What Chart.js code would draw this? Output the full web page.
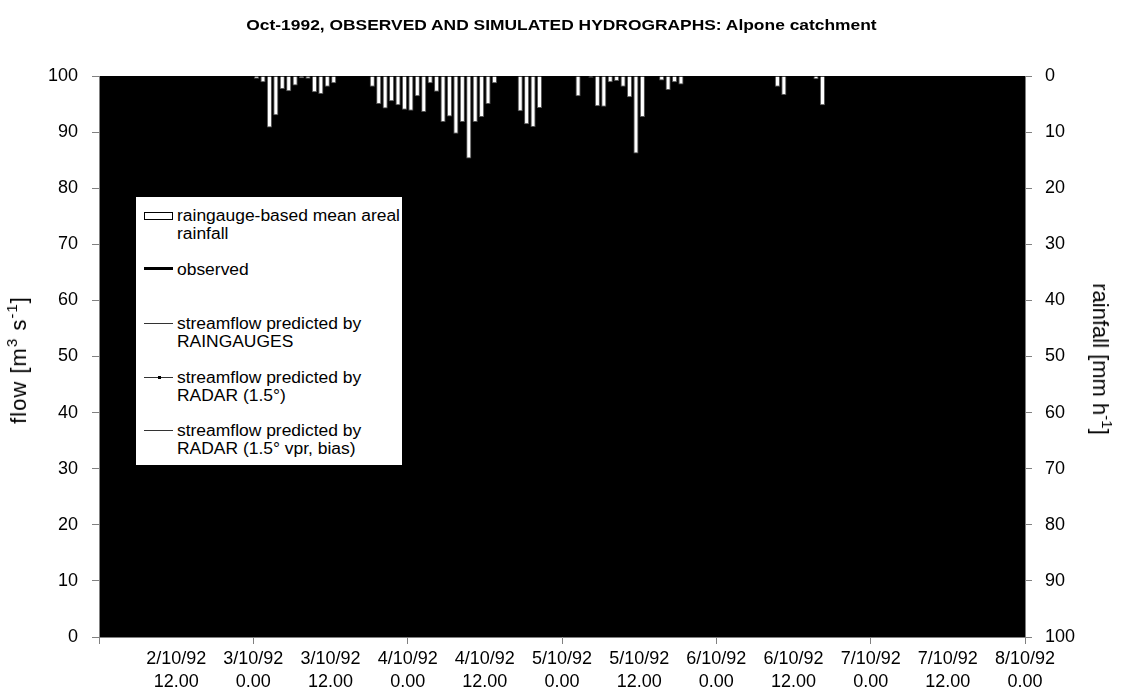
<!DOCTYPE html>
<html>
<head>
<meta charset="utf-8">
<title>Alpone catchment hydrographs</title>
<script src="https://cdn.jsdelivr.net/npm/chart.js@4.4.1/dist/chart.umd.min.js"></script>
<style>
  html, body { margin: 0; padding: 0; background: #fff; }
  #wrap {
    position: relative;
    width: 1123px;
    height: 698px;
    font-family: "Liberation Sans", Arial, sans-serif;
    color: #000;
  }
  #chart { position: absolute; left: 0; top: 0; }
  #title {
    position: absolute;
    left: 0;
    width: 1123px;
    top: 16px;
    text-align: center;
    font-weight: bold;
    font-size: 15px;
    transform: scaleX(1.16);
  }
  .axis-title {
    position: absolute;
    font-size: 22px;
    white-space: nowrap;
    transform-origin: center center;
  }
  .axis-title sup { font-size: 15px; vertical-align: 9px; line-height: 0; }
  #flow-title { left: 19px; top: 360px; transform: translate(-50%, -50%) rotate(-90deg); letter-spacing: 1px; }
  #rain-title { left: 1100px; top: 359px; transform: translate(-50%, -50%) rotate(90deg); }
  #legend {
    position: absolute;
    left: 135px;
    top: 196px;
    width: 266px;
    height: 268px;
    background: #fff;
    border: 1px solid #000;
    font-size: 16px;
    line-height: 18px;
  }
  #legend .txt {
    position: absolute;
    left: 41px;
    white-space: nowrap;
    transform: scaleX(1.09);
    transform-origin: left center;
  }
  #legend .swatch { position: absolute; left: 8px; width: 29px; }
</style>
</head>
<body>
<div id="wrap">
  <canvas id="chart" width="1123" height="698"></canvas>
  <div id="title">Oct-1992, OBSERVED AND SIMULATED HYDROGRAPHS: Alpone catchment</div>
  <div id="flow-title" class="axis-title">flow [m<sup>3</sup> s<sup>-1</sup>]</div>
  <div id="rain-title" class="axis-title">rainfall [mm h<sup>-1</sup>]</div>
  <div id="legend">
    <div class="swatch" style="top:15px;height:6px;border:1px solid #000;width:27px;background:#fff"></div>
    <div class="txt" style="top:10px">raingauge-based mean areal<br>rainfall</div>
    <div class="swatch" style="top:70px;height:3px;background:#000"></div>
    <div class="txt" style="top:64px">observed</div>
    <div class="swatch" style="top:126px;height:1px;background:#333"></div>
    <div class="txt" style="top:118px">streamflow predicted by<br>RAINGAUGES</div>
    <div class="swatch" style="top:180px;height:1px;background:#333"></div>
    <div class="swatch" style="top:179px;left:22px;width:3px;height:3px;background:#000"></div>
    <div class="txt" style="top:172px">streamflow predicted by<br>RADAR (1.5°)</div>
    <div class="swatch" style="top:233px;height:1px;background:#333"></div>
    <div class="txt" style="top:225px">streamflow predicted by<br>RADAR (1.5° vpr, bias)</div>
  </div>
</div>
<script>
// hourly raingauge-based mean areal rainfall [mm/h], 2/10/92 0.00 -> 8/10/92 0.00
const rainfall = [
  0, 0, 0, 0, 0, 0, 0, 0, 0, 0, 0, 0,
  0, 0, 0, 0, 0, 0, 0, 0, 0, 0, 0, 0,
  0.5, 1.1, 9.2, 7.0, 2.3, 2.7, 1.7, 0.4, 0.5, 2.9, 3.2, 1.9,
  1.3, 0, 0, 0, 0, 0, 1.9, 5.0, 5.8, 4.5, 5.2, 6.0,
  6.2, 3.6, 6.4, 1.3, 2.8, 8.2, 7.2, 10.3, 8.2, 14.7, 8.2, 7.3,
  5.0, 1.3, 0, 0, 0, 6.3, 8.6, 9.1, 5.7, 0, 0, 0,
  0, 0, 3.6, 0, 0.3, 5.4, 5.5, 1.1, 0.9, 1.9, 3.8, 13.8,
  7.3, 0, 0, 0.8, 2.5, 1.1, 1.5, 0, 0, 0, 0, 0,
  0, 0, 0, 0, 0, 0, 0, 0, 0, 1.9, 3.4, 0,
  0, 0, 0, 0.6, 5.2, 0, 0, 0, 0, 0, 0, 0,
  0, 0, 0, 0, 0, 0, 0, 0, 0, 0, 0, 0,
  0, 0, 0, 0, 0, 0, 0, 0, 0, 0, 0, 0
];

// x tick labels, one every 12 hours
const tickLabels = [
  "2/10/92 12.00", "3/10/92 0.00", "3/10/92 12.00", "4/10/92 0.00",
  "4/10/92 12.00", "5/10/92 0.00", "5/10/92 12.00", "6/10/92 0.00",
  "6/10/92 12.00", "7/10/92 0.00", "7/10/92 12.00", "8/10/92 0.00"
];

const hourLabels = rainfall.map((_, i) => `${2 + Math.floor(i / 24)}/10/92 ${i % 24}.00`);

const blackPlot = {
  id: "blackPlot",
  beforeDraw(chart) {
    const { ctx, chartArea } = chart;
    ctx.save();
    ctx.fillStyle = "#000";
    ctx.fillRect(chartArea.left, chartArea.top, chartArea.right - chartArea.left, chartArea.bottom - chartArea.top);
    ctx.restore();
  }
};

document.addEventListener("DOMContentLoaded", () => {
  const family = '"Liberation Sans", Arial, sans-serif';
  const axisGrey = "#808080";

  new Chart(document.getElementById("chart").getContext("2d"), {
    type: "bar",
    data: {
      labels: hourLabels,
      datasets: [
        {
          label: "raingauge-based mean areal rainfall",
          data: rainfall,
          xAxisID: "x",
          yAxisID: "rain",
          backgroundColor: "#fff",
          borderColor: "#555",
          borderWidth: 1,
          barPercentage: 0.8,
          categoryPercentage: 1.0
        }
      ]
    },
    options: {
      responsive: false,
      animation: false,
      layout: { padding: { top: 76, left: 0, right: 0, bottom: 0 } },
      plugins: {
        legend: { display: false },
        tooltip: { enabled: false }
      },
      scales: {
        x: {
          type: "category",
          display: false,
          offset: true
        },
        time: {
          type: "linear",
          position: "bottom",
          offset: false,
          min: 0,
          max: 144,
          afterBuildTicks: (axis) => {
            axis.ticks = [0, 12, 24, 36, 48, 60, 72, 84, 96, 108, 120, 132, 144].map((v) => ({ value: v }));
          },
          afterFit: (s) => { s.height = 61; },
          ticks: {
            autoSkip: false,
            maxRotation: 0,
            padding: 3,
            color: "#000",
            font: { family, size: 18, lineHeight: 1.3 },
            callback: (v) => (v === 0 ? "" : tickLabels[v / 12 - 1].split(" "))
          },
          grid: {
            offset: false,
            drawOnChartArea: false,
            tickLength: 7,
            color: (c) => (c.tick && c.tick.value % 24 === 0 ? axisGrey : "rgba(0,0,0,0)")
          },
          border: { color: axisGrey }
        },
        y: {
          position: "left",
          min: 0,
          max: 100,
          afterFit: (s) => { s.width = 99; },
          ticks: { stepSize: 10, padding: 14, color: "#000", font: { family, size: 18 } },
          grid: { drawOnChartArea: false, tickLength: 7, color: axisGrey },
          border: { color: axisGrey }
        },
        rain: {
          position: "right",
          reverse: true,
          min: 0,
          max: 100,
          afterFit: (s) => { s.width = 98; },
          ticks: { stepSize: 10, padding: 13, color: "#000", font: { family, size: 18 } },
          grid: { drawOnChartArea: false, tickLength: 7, color: axisGrey },
          border: { color: axisGrey }
        }
      }
    },
    plugins: [blackPlot]
  });
});
</script>
</body>
</html>
